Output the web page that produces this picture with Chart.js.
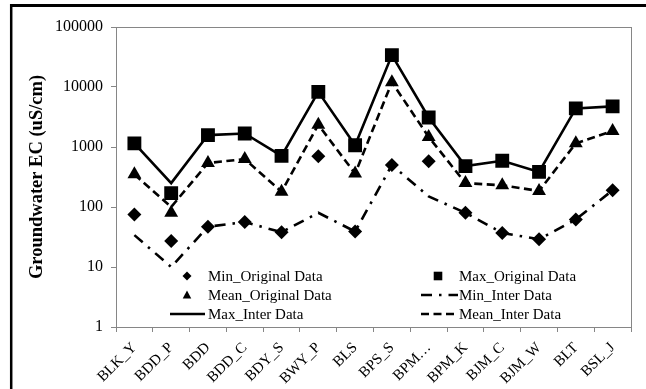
<!DOCTYPE html>
<html><head><meta charset="utf-8">
<script src="https://cdn.jsdelivr.net/npm/chart.js@4.4.0/dist/chart.umd.min.js"></script>
<style>html,body{margin:0;padding:0;background:#fff}#wrap{width:646px;height:389px;position:relative}</style>
</head><body><div id="wrap"><canvas id="c"></canvas></div>
<script>
const categories = ['BLK_Y','BDD_P','BDD','BDD_C','BDY_S','BWY_P','BLS','BPS_S','BPM\u2026','BPM_K','BJM_C','BJM_W','BLT','BSL_J'];
const minOriginal  = [75, 27, 47, 56, 38, 700, 39, 500, 580, 80, 37, 29, 62, 190];
const maxOriginal  = [1150, 170, 1580, 1680, 710, 8300, 1070, 34000, 3100, 480, 590, 385, 4400, 4750];
const meanOriginal = [350, 80, 540, 630, 180, 2350, 360, 12000, 1470, 250, 230, 185, 1150, 1850];
const minInter  = [34, 10, 47, 56, 38, 80, 39, 500, 150, 80, 37, 29, 62, 190];
const maxInter  = [1150, 250, 1580, 1680, 710, 8300, 1070, 34000, 3100, 480, 590, 385, 4400, 4750];
const meanInter = [350, 100, 540, 630, 180, 2350, 360, 12000, 1470, 250, 230, 185, 1150, 1850];
const yTicks = [1, 10, 100, 1000, 10000, 100000];
const yTitle = 'Groundwater EC (uS/cm)';

const FONT = '"Liberation Serif", "Times New Roman", serif';
const GRAY = '#868686';

function markerDs(label, data, style, r) {
  return { label, data, showLine: false, pointStyle: style, pointRadius: r, pointHoverRadius: r,
    pointBackgroundColor: '#000', pointBorderColor: '#000', pointBorderWidth: 0,
    borderColor: '#000', backgroundColor: '#000', legendKind: 'marker' };
}
function lineDs(label, data, dash) {
  return { label, data, pointRadius: 0, pointHoverRadius: 0, borderColor: '#000', backgroundColor: '#000',
    borderWidth: 2.6, borderDash: dash, tension: 0, legendKind: 'line' };
}

const datasets = [
  markerDs('Min_Original Data', minOriginal, 'rectRot', 7),
  markerDs('Max_Original Data', maxOriginal, 'rect', 9.8),
  markerDs('Mean_Original Data', meanOriginal, 'triangle', 8),
  lineDs('Min_Inter Data', minInter, [11, 7, 2.5, 7]),
  lineDs('Max_Inter Data', maxInter, []),
  lineDs('Mean_Inter Data', meanInter, [8, 4.5]),
];

const framePlugin = {
  id: 'frame',
  beforeDraw(chart) {
    const ctx = chart.ctx;
    ctx.save();
    ctx.fillStyle = '#fff';
    ctx.fillRect(0, 0, chart.width, chart.height);
    ctx.strokeStyle = '#000';
    ctx.lineWidth = 3;
    ctx.beginPath(); ctx.moveTo(10, 5.5); ctx.lineTo(chart.width, 5.5); ctx.stroke();
    ctx.lineWidth = 2.5;
    ctx.beginPath(); ctx.moveTo(11.2, 4); ctx.lineTo(11.2, chart.height); ctx.stroke();
    ctx.restore();
  },
  afterDraw(chart) {
    const ctx = chart.ctx, a = chart.chartArea;
    ctx.save();
    ctx.strokeStyle = GRAY; ctx.lineWidth = 1;
    ctx.strokeRect(Math.round(a.left) + 0.5, Math.round(a.top) + 0.5, Math.round(a.right - a.left), Math.round(a.bottom - a.top));
    ctx.restore();
  }
};

function drawMarker(ctx, style, x, y, s) {
  ctx.beginPath();
  if (style === 'rect') { ctx.rect(x - s, y - s, 2 * s, 2 * s); }
  else if (style === 'rectRot') { ctx.moveTo(x, y - s); ctx.lineTo(x + s, y); ctx.lineTo(x, y + s); ctx.lineTo(x - s, y); ctx.closePath(); }
  else if (style === 'triangle') { ctx.moveTo(x, y - s); ctx.lineTo(x + s * 0.95, y + s * 0.75); ctx.lineTo(x - s * 0.95, y + s * 0.75); ctx.closePath(); }
  ctx.fill();
}

const legendPlugin = {
  id: 'customLegend',
  afterDatasetsDraw(chart) {
    const ctx = chart.ctx, a = chart.chartArea;
    ctx.save();
    ctx.font = '15px ' + FONT;
    ctx.fillStyle = '#000'; ctx.strokeStyle = '#000';
    ctx.textBaseline = 'middle'; ctx.textAlign = 'left';
    const colMarker = [a.left + 71, a.left + 322];
    const colText = [a.left + 92, a.left + 343];
    const colLine = [[a.left + 54, a.left + 89], [a.left + 305, a.left + 342]];
    const rowY = [a.bottom - 51, a.bottom - 32, a.bottom - 13];
    chart.data.datasets.forEach((ds, i) => {
      const col = i % 2, row = Math.floor(i / 2);
      const y = rowY[row];
      if (ds.legendKind === 'marker') {
        const s = ds.pointStyle === 'rect' ? 4.3 : 4.5;
        drawMarker(ctx, ds.pointStyle, colMarker[col], y, s);
      } else {
        ctx.lineWidth = ds.borderWidth;
        ctx.setLineDash(ds.borderDash);
        ctx.beginPath(); ctx.moveTo(colLine[col][0], y); ctx.lineTo(colLine[col][1], y); ctx.stroke();
        ctx.setLineDash([]);
      }
      ctx.fillText(ds.label, colText[col], y + 1);
    });
    ctx.restore();
  }
};

new Chart(document.getElementById('c'), {
  type: 'line',
  data: { labels: categories, datasets },
  plugins: [framePlugin, legendPlugin],
  options: {
    responsive: true, maintainAspectRatio: false, animation: false,
    layout: { padding: { left: 0, top: 27, right: 15, bottom: 0 } },
    plugins: { legend: { display: false }, tooltip: { enabled: false }, title: { display: false } },
    scales: {
      x: {
        type: 'category', offset: true,
        grid: { offset: true, drawOnChartArea: false, drawTicks: true, tickLength: 5, color: GRAY, tickColor: GRAY },
        border: { color: GRAY },
        ticks: { autoSkip: false, minRotation: 45, maxRotation: 45, color: '#000', padding: 7,
          font: { family: FONT, size: 15 } },
        afterFit(s) { s.height = 62; }
      },
      y: {
        type: 'logarithmic', min: 1, max: 100000,
        afterBuildTicks(s) { s.ticks = yTicks.map(v => ({ value: v })); },
        grid: { drawOnChartArea: false, drawTicks: true, tickLength: 5, color: GRAY, tickColor: GRAY },
        border: { color: GRAY },
        ticks: { color: '#000', padding: 8, font: { family: FONT, size: 16 },
          callback: (v) => String(v) },
        title: { display: true, text: yTitle, color: '#000', font: { family: FONT, size: 18.5, weight: 'bold' },
          padding: { top: 26, bottom: 0 } },
        afterFit(s) { s.width = 116; }
      }
    }
  }
});
</script></body></html>
